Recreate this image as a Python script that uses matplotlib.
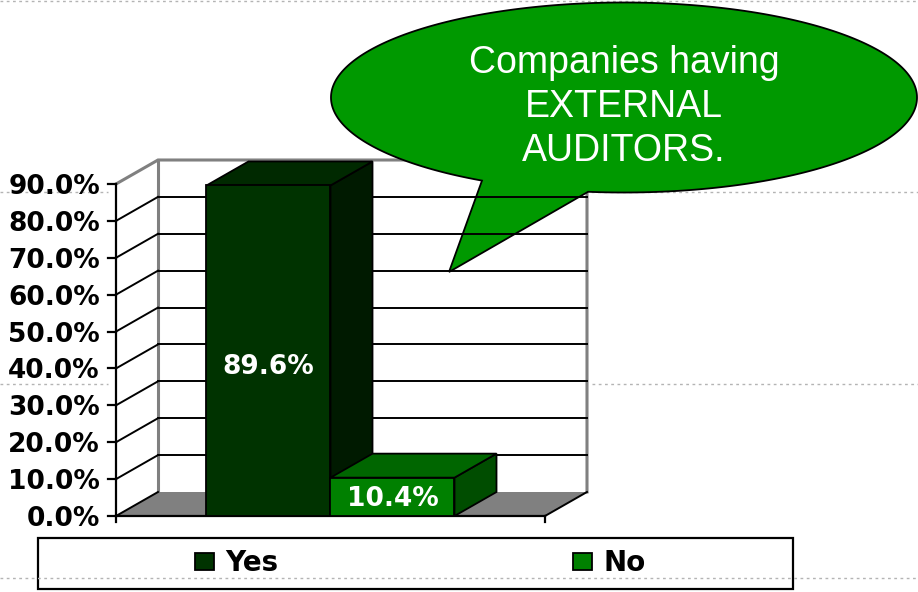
import numpy as np
import matplotlib
matplotlib.use("Agg")
import matplotlib.pyplot as plt
import matplotlib.transforms as mtransforms
from matplotlib.patches import Polygon, Rectangle, Patch
from matplotlib.path import Path
from matplotlib.patches import PathPatch

# ---- data -------------------------------------------------------------
series = ["Yes", "No"]
values = [89.6, 10.4]
value_labels = ["89.6%", "10.4%"]
y_ticks = [0, 10, 20, 30, 40, 50, 60, 70, 80, 90]
y_tick_labels = ["0.0%", "10.0%", "20.0%", "30.0%", "40.0%",
                 "50.0%", "60.0%", "70.0%", "80.0%", "90.0%"]
callout_lines = ["Companies having", "EXTERNAL", "AUDITORS."]

# front / top / side shades per series
face_front = ["#003300", "#008000"]
face_top = ["#002900", "#006600"]
face_side = ["#001a00", "#004d00"]

W, H = 918, 592
fig = plt.figure(figsize=(W / 100, H / 100), dpi=100)
fig.patch.set_facecolor("white")
ax = fig.add_axes([0, 0, 1, 1])

# plot box: x 0..1 over 429 px, y 0..90 over 332 px
XPX, YPX = 429.0, 332.0 / 90.0
X0, Y0 = 116.0, 516.0
ax.set_xlim(-X0 / XPX, (W - X0) / XPX)
ax.set_ylim(-(H - Y0) / YPX, Y0 / YPX)
ax.axis("off")

DX = 42.0 / XPX      # depth offset (x)
DY = 24.0 / YPX      # depth offset (y)
YMAX = y_ticks[-1]

# pixel transform (origin top-left) for slide decorations
px = mtransforms.Affine2D().scale(1 / W, -1 / H).translate(0, 1) + fig.transFigure

# slide guide lines
guide = dict(color="#b4b4b4", lw=1.0, ls=(0, (2, 2.5)), transform=px)
for y, segs in [(1, [(0, W)]), (192, [(0, 108), (560, W)]),
                (384, [(0, 108), (592, W)]), (578, [(0, W)])]:
    for a, b in segs:
        ax.plot([a, b], [y, y], zorder=20 if y == 578 else 0.5, **guide)

# floor
ax.add_patch(Polygon([(0, 0), (1, 0), (1 + DX, DY), (DX, DY)],
                     closed=True, fc="#808080", ec="none", zorder=1))
# back wall and side wall
ax.add_patch(Rectangle((DX, DY), 1, YMAX, fc="white", ec="none", zorder=1))
ax.add_patch(Polygon([(0, 0), (DX, DY), (DX, YMAX + DY), (0, YMAX)],
                     closed=True, fc="white", ec="none", zorder=1))

gray = "#808080"
ax.plot([0, DX, 1 + DX, 1 + DX], [YMAX, YMAX + DY, YMAX + DY, DY],
        color=gray, lw=2.2, zorder=2, solid_joinstyle="miter")
ax.plot([DX, DX], [DY, YMAX + DY], color=gray, lw=2.2, zorder=2)

# callout bubble: ellipse with a pointer
cx, cy, ra, rb = 624.0, 97.5, 293.0, 95.0
t1 = np.arctan2((180 - cy) / rb, (483 - cx) / ra)
t2 = np.arctan2((192 - cy) / rb, (588 - cx) / ra)
ts = np.linspace(t1, t2 + 2 * np.pi, 400)
pts = np.column_stack([cx + ra * np.cos(ts), cy + rb * np.sin(ts)])
pts = np.vstack([pts, [[449, 272]], pts[:1]])
codes = [Path.MOVETO] + [Path.LINETO] * (len(pts) - 2) + [Path.CLOSEPOLY]
ax.add_patch(PathPatch(Path(pts, codes), fc="#009900", ec="black", lw=1.3,
                       transform=px, zorder=2.5))
for k, line in enumerate(callout_lines):
    ax.text(cx, 63 + 44 * k, line, transform=px, ha="center", va="center",
            color="white", fontsize=27, family="Liberation Sans", zorder=2.6)

# back wall grid lines and side wall lines
for t in y_ticks[1:-1]:
    ax.plot([DX, 1 + DX], [t + DY, t + DY], color="black", lw=1.4, zorder=3)
for t in y_ticks[:-1]:
    ax.plot([0, DX], [t, t + DY], color="black", lw=1.4, zorder=3)
ax.plot([1, 1 + DX], [0, DY], color="black", lw=1.4, zorder=3)

# front axes
ax.plot([0, 0], [0, YMAX], color="black", lw=1.6, zorder=3)
ax.plot([0, 1], [0, 0], color="black", lw=1.6, zorder=3)
tick_x = 8.0 / XPX
tick_y = 6.0 / YPX
for t, lab in zip(y_ticks, y_tick_labels):
    ax.plot([-tick_x, 0], [t, t], color="black", lw=1.6, zorder=3)
    ax.text(-16.0 / XPX, t, lab, ha="right", va="center_baseline",
            fontsize=19, fontweight="bold", family="DejaVu Sans",
            color="black", zorder=3)
for xv in (0, 1):
    ax.plot([xv, xv], [0, -tick_y], color="black", lw=1.6, zorder=3)

# 3-D columns
BW = 124.0 / XPX
n = len(series)
for i, (v, lab) in enumerate(zip(values, value_labels)):
    left = 0.5 + (i - n / 2) * BW
    right = left + BW
    z = 4 + i
    ax.add_patch(Polygon([(right, 0), (right + DX, DY), (right + DX, v + DY), (right, v)],
                         closed=True, fc=face_side[i], ec="black", lw=1.3, zorder=z))
    ax.add_patch(Polygon([(left, v), (right, v), (right + DX, v + DY), (left + DX, v + DY)],
                         closed=True, fc=face_top[i], ec="black", lw=1.3, zorder=z))
    ax.add_patch(Rectangle((left, 0), BW, v, fc=face_front[i], ec="black",
                           lw=1.3, zorder=z))
    ax.text(left + BW / 2, v * 0.45, lab, ha="center", va="center",
            color="white", fontsize=19, fontweight="bold",
            family="DejaVu Sans", zorder=10)

# legend
handles = [Patch(fc=face_front[i], ec="black", lw=1.3, label=s)
           for i, s in enumerate(series)]
fig.legend(handles=handles, loc="center", bbox_to_anchor=(420 / W, 1 - 563 / H),
           ncol=2, frameon=False,
           prop=dict(family="DejaVu Sans", weight="bold", size=20),
           handlelength=0.7, handleheight=0.55, handletextpad=0.4,
           columnspacing=10.6)
ax.add_patch(Rectangle((38, 538), 755, 51, transform=px, fill=False,
                       ec="black", lw=1.6, zorder=15))

fig.savefig("out.png", dpi=100, facecolor="white")
